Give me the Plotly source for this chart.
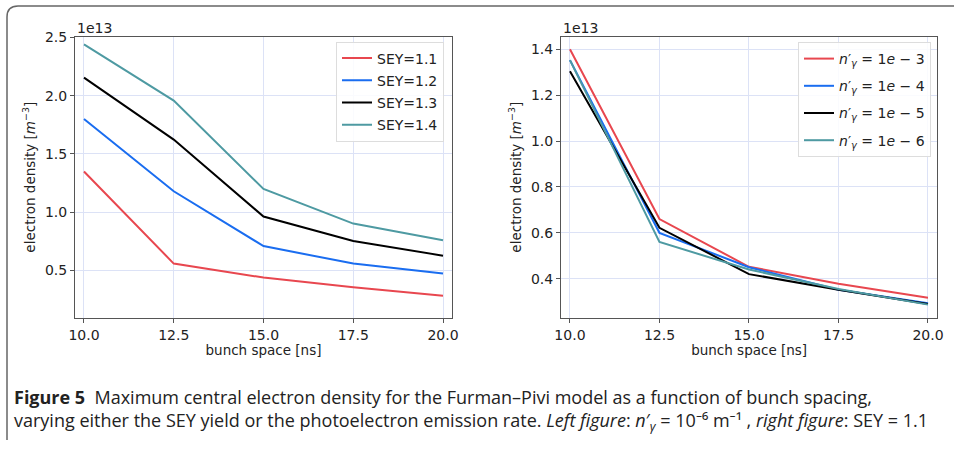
import plotly.graph_objects as go

bunch_space = [10.0, 12.5, 15.0, 17.5, 20.0]
x_tick_text = ["10.0", "12.5", "15.0", "17.5", "20.0"]

# Left: varying SEY (values in units of 1e13 m^-3)
sey_labels = ["SEY=1.1", "SEY=1.2", "SEY=1.3", "SEY=1.4"]
sey_11 = [1.35, 0.56, 0.44, 0.358, 0.284]
sey_12 = [1.80, 1.18, 0.71, 0.56, 0.474]
sey_13 = [2.154, 1.623, 0.963, 0.754, 0.628]
sey_14 = [2.44, 1.957, 1.20, 0.903, 0.76]

# Right: varying photoelectron emission rate (units of 1e13 m^-3)
ny_labels = ["1<i>e</i> − 3", "1<i>e</i> − 4", "1<i>e</i> − 5", "1<i>e</i> − 6"]
ny_1e3 = [1.40, 0.66, 0.452, 0.378, 0.317]
ny_1e4 = [1.353, 0.60, 0.45, 0.352, 0.293]
ny_1e5 = [1.304, 0.622, 0.42, 0.352, 0.29]
ny_1e6 = [1.353, 0.56, 0.44, 0.355, 0.287]

colors = ["#e8474f", "#1a6df0", "#000000", "#4e9aa2"]

W, H = 954, 450
def px(x):
    return x / W
def py(y):
    return 1 - y / H

fig = go.Figure()

left_series = [sey_11, sey_12, sey_13, sey_14]
for lab, ys, c in zip(sey_labels, left_series, colors):
    fig.add_trace(go.Scatter(x=bunch_space, y=ys, mode="lines", name=lab,
                             line=dict(color=c, width=2), xaxis="x", yaxis="y",
                             legend="legend", legendgroup="L" + lab))

right_series = [ny_1e3, ny_1e4, ny_1e5, ny_1e6]
for lab, ys, c in zip(ny_labels, right_series, colors):
    fig.add_trace(go.Scatter(x=bunch_space, y=ys, mode="lines",
                             name="<i>n</i>′<sub><i>γ</i></sub> = " + lab,
                             line=dict(color=c, width=2), xaxis="x2", yaxis="y2",
                             legend="legend2", legendgroup="R" + lab))

tickfont = dict(family="DejaVu Sans", size=14, color="#222")
titlefont = dict(family="DejaVu Sans", size=13.5, color="#222")
grid = "#dce2f6"
axcommon = dict(showgrid=True, gridcolor=grid, gridwidth=1, showline=True,
                linecolor="#555", linewidth=1, mirror=True, ticks="outside",
                ticklen=4, tickcolor="#555", zeroline=False, tickfont=tickfont,
                automargin=False)

xdom1 = [px(75), px(452)]
xdom2 = [px(561), px(937.3)]
ydom = [py(317.7), py(36.7)]

fig.update_layout(
    width=W, height=H, margin=dict(l=0, r=0, t=0, b=0, autoexpand=False),
    paper_bgcolor="white", plot_bgcolor="white",
    xaxis=dict(domain=xdom1, anchor="y", range=[9.75, 20.25],
               tickvals=bunch_space, ticktext=x_tick_text,
               title=dict(text="bunch space [ns]", font=titlefont, standoff=2), **axcommon),
    yaxis=dict(domain=ydom, anchor="x", range=[0.096, 2.505],
               tickvals=[0.5, 1.0, 1.5, 2.0, 2.5], tickformat=".1f",
               title=dict(text="electron density [<i>m</i><sup>−3</sup>]", font=titlefont, standoff=6),
               **axcommon),
    xaxis2=dict(domain=xdom2, anchor="y2", range=[9.75, 20.26],
                tickvals=bunch_space, ticktext=x_tick_text,
                title=dict(text="bunch space [ns]", font=titlefont, standoff=2), **axcommon),
    yaxis2=dict(domain=ydom, anchor="x2", range=[0.23, 1.455],
                tickvals=[0.4, 0.6, 0.8, 1.0, 1.2, 1.4], tickformat=".1f",
                title=dict(text="electron density [<i>m</i><sup>−3</sup>]", font=titlefont, standoff=6),
                **axcommon),
    legend=dict(x=px(444), y=py(41.5), xanchor="right", yanchor="top",
                bgcolor="rgba(255,255,255,0.85)", bordercolor="#dddddd", borderwidth=1,
                font=dict(family="DejaVu Sans", size=14, color="#222"),
                tracegroupgap=1, itemwidth=30),
    legend2=dict(x=px(931), y=py(42), xanchor="right", yanchor="top",
                 bgcolor="rgba(255,255,255,0.85)", bordercolor="#dddddd", borderwidth=1,
                 font=dict(family="DejaVu Sans", size=14, color="#222"),
                 tracegroupgap=6, itemwidth=30),
    showlegend=True,
)

# offset labels
for xx in [75, 561]:
    fig.add_annotation(x=px(xx), y=py(28), xref="paper", yref="paper", text="1e13",
                       showarrow=False, xanchor="left", yanchor="middle",
                       font=dict(family="DejaVu Sans", size=14, color="#222"))

# caption (two lines in one text block)
capfont = dict(family="Open Sans, Noto Sans", size=18, color="#222")
caption = ("<b>Figure 5</b>  Maximum central electron density for the Furman–Pivi model as a function of bunch spacing,<br>"
           "varying either the SEY yield or the photoelectron emission rate. <i>Left figure</i>: "
           "<i>n</i>′<sub><i>γ</i></sub> = 10⁻⁶ m⁻¹ , <i>right figure</i>: SEY = 1.1")
fig.add_annotation(x=px(12), y=py(410), xref="paper", yref="paper", xanchor="left", yanchor="middle",
                   showarrow=False, align="left", font=capfont, text=caption)

# outer frame (top and left, rounded corner)
x0, y0, r = 7, 6, 11
path = (f"M {px(W)} {py(y0)} L {px(x0 + r)} {py(y0)} "
        f"Q {px(x0)} {py(y0)} {px(x0)} {py(y0 + r)} L {px(x0)} {py(440)}")
fig.add_shape(type="path", path=path, xref="paper", yref="paper",
              line=dict(color="#666", width=1.5))

fig.write_html("out.html")
